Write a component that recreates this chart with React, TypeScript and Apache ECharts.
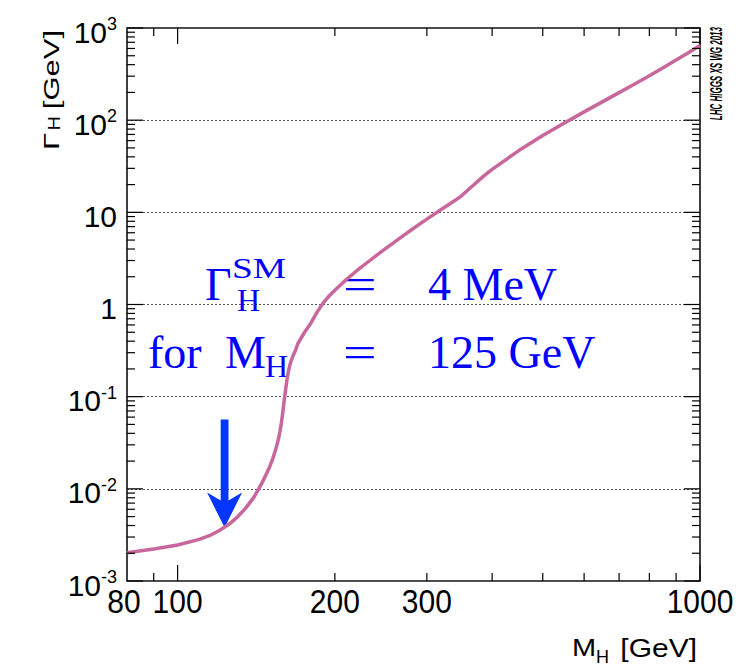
import React, { useEffect, useRef } from "react";
import * as echarts from "echarts";

// Higgs boson total width vs mass
const higgsMass = [80, 90, 100, 110, 115, 120, 125, 130, 135, 140, 145, 150, 152, 154, 156, 157, 158, 159, 160, 161, 162, 163, 164, 165, 166, 168, 170, 175, 180, 185, 190, 195, 200, 210, 220, 230, 240, 250, 260, 270, 280, 290, 300, 320, 340, 350, 360, 370, 380, 390, 400, 450, 500, 550, 600, 650, 700, 750, 800, 850, 900, 950, 1000];
const higgsWidth = [0.00203, 0.00222, 0.00246, 0.00283, 0.0031, 0.00351, 0.00407, 0.00491, 0.00618, 0.00812, 0.0115, 0.0173, 0.021, 0.0265, 0.035, 0.042, 0.052, 0.068, 0.092, 0.12, 0.155, 0.19, 0.22, 0.246, 0.27, 0.315, 0.38, 0.5, 0.631, 0.832, 1.04, 1.24, 1.43, 1.85, 2.31, 2.82, 3.4, 4.04, 4.76, 5.55, 6.43, 7.39, 8.43, 10.8, 13.5, 15.2, 17.6, 20.2, 23.1, 26.1, 29.2, 46.8, 68.0, 93.1, 123, 158, 199, 247, 304, 370, 449, 540, 647];

const xRange = [80, 1000];
const yRange = [0.001, 1000];
const xTickLabels = [80, 100, 200, 300, 1000];
const xMajorTicks = [100, 1000];
const xMinorTicks = [90, 200, 300, 400, 500, 600, 700, 800, 900];
const yDecadeExponents = [-3, -2, -1, 0, 1, 2, 3];
const yMinorMultipliers = [2, 3, 4, 5, 6, 7, 8, 9];
const arrowTarget = [123, 0.0038];

const SANS = "'Liberation Sans', Arial, Helvetica, sans-serif";
const SERIF = "'Liberation Serif', 'Times New Roman', serif";
const BLUE = "#0000ff";

export default function App() {
  const ref = useRef<HTMLDivElement>(null);

  useEffect(() => {
    if (!ref.current) return;
    const chart = echarts.init(ref.current, undefined, { renderer: "svg" });

    const yMajor = yDecadeExponents.map((e) => Math.pow(10, e));
    const yMinor: number[] = [];
    yDecadeExponents.slice(0, -1).forEach((e) => {
      yMinorMultipliers.forEach((m) => yMinor.push(m * Math.pow(10, e)));
    });
    const tickData = [
      ...yMajor.map((v) => [xRange[0], v, 0]),
      ...yMinor.map((v) => [xRange[0], v, 1]),
      ...xMajorTicks.map((v) => [v, yRange[0], 2]),
      ...xMinorTicks.map((v) => [v, yRange[0], 3]),
    ];

    const option: any = {
      animation: false,
      grid: {
        left: 127,
        right: 39,
        top: 28,
        bottom: 87,
        show: true,
        borderColor: "#111",
        borderWidth: 1.6,
        backgroundColor: "transparent",
        outerBoundsMode: "none",
      },
      xAxis: {
        type: "log",
        logBase: 10,
        min: xRange[0],
        max: xRange[1],
        axisLine: { show: false },
        axisTick: { show: false },
        axisLabel: { show: false },
        splitLine: { show: false },
      },
      yAxis: {
        type: "log",
        logBase: 10,
        min: yRange[0],
        max: yRange[1],
        splitNumber: 6,
        axisLine: { show: false },
        axisTick: { show: false },
        splitLine: {
          show: true,
          lineStyle: { type: [2, 2], color: "#555", width: 1 },
        },
        axisLabel: {
          show: true,
          margin: 10,
          showMinLabel: true,
          showMaxLabel: true,
          padding: [8, 0, 0, 0],
          formatter: (v: number) => {
            const e = Math.round(Math.log10(v));
            if (e === 0) return "{b|1}";
            if (e === 1) return "{b|10}";
            return `{b|10}{s|${e}}`;
          },
          rich: {
            b: { fontSize: 30, fontFamily: SANS, color: "#000", lineHeight: 34 },
            s: { fontSize: 18, fontFamily: SANS, color: "#000", lineHeight: 20, verticalAlign: "top" },
          },
        },
      },
      series: [
        {
          type: "line",
          data: higgsMass.map((m, i) => [m, higgsWidth[i]]),
          showSymbol: false,
          smooth: false,
          lineStyle: { color: "#c8679b", width: 3.5, join: "round" },
          z: 3,
          silent: true,
        },
        {
          type: "custom",
          silent: true,
          clip: false,
          z: 4,
          data: tickData,
          renderItem: (params: any, api: any) => {
            const x = api.value(0);
            const y = api.value(1);
            const k = api.value(2);
            const style = { stroke: "#000", lineWidth: 1.2 };
            if (k <= 1) {
              const len = k === 0 ? 16 : 8;
              const pL = api.coord([xRange[0], y]);
              const pR = api.coord([xRange[1], y]);
              return {
                type: "group",
                children: [
                  { type: "line", shape: { x1: pL[0], y1: pL[1], x2: pL[0] + len, y2: pL[1] }, style },
                  { type: "line", shape: { x1: pR[0], y1: pR[1], x2: pR[0] - len, y2: pR[1] }, style },
                ],
              };
            }
            const len = k === 2 ? 16 : 8;
            const pB = api.coord([x, yRange[0]]);
            const pT = api.coord([x, yRange[1]]);
            return {
              type: "group",
              children: [
                { type: "line", shape: { x1: pB[0], y1: pB[1], x2: pB[0], y2: pB[1] - len }, style },
                { type: "line", shape: { x1: pT[0], y1: pT[1], x2: pT[0], y2: pT[1] + len }, style },
              ],
            };
          },
        },
        {
          type: "custom",
          silent: true,
          clip: false,
          z: 4,
          data: xTickLabels.map((v) => [v, yRange[0]]),
          renderItem: (params: any, api: any) => {
            const v = api.value(0);
            const p = api.coord([v, yRange[0]]);
            return {
              type: "text",
              x: p[0] - (v === xRange[0] ? 3 : 0),
              y: p[1] + 20,
              scaleY: 1.12,
              style: {
                text: String(v),
                fontSize: 30,
                fontFamily: SANS,
                fill: "#000",
                align: "center",
                verticalAlign: "middle",
              },
            };
          },
        },
      ],
    };

    chart.setOption(option);

    const tip = chart.convertToPixel({ xAxisIndex: 0, yAxisIndex: 0 }, arrowTarget) as number[];
    const tx = tip[0];
    const ty = tip[1];

    const blueText = (text: string, x: number, y: number, size: number, scaleX = 1) => ({
      type: "text",
      x,
      y,
      scaleX,
      z: 1,
      silent: true,
      style: { text, fontSize: size, fontFamily: SERIF, fill: BLUE, align: "left", verticalAlign: "middle" },
    });

    const blackText = (
      text: string,
      x: number,
      y: number,
      size: number,
      align: string,
      rotated: boolean,
      squash: number
    ) => ({
      type: "text",
      x,
      y,
      rotation: rotated ? Math.PI / 2 : 0,
      scaleY: squash,
      silent: true,
      style: { text, fontSize: size, fontFamily: SANS, fill: "#000", align, verticalAlign: "middle" },
    });

    chart.setOption({
      graphic: [
        // y-axis title: Γ_H [GeV] (rotated, reading upwards)
        blackText("[GeV]", 52, 30, 31, "right", true, 0.72),
        blackText("H", 55, 116, 20, "right", true, 0.8),
        blackText("Γ", 52, 133, 31, "right", true, 0.72),
        // x-axis title: M_H [GeV]
        blackText("M", 572, 648, 29, "left", false, 0.85),
        blackText("H", 596, 657, 18, "left", false, 1),
        blackText("[GeV]", 697, 648, 30, "right", false, 0.85),
        // working group label
        {
          type: "text",
          x: 717,
          y: 27,
          rotation: Math.PI / 2,
          scaleX: 0.5,
          silent: true,
          style: {
            text: "LHC HIGGS XS WG 2013",
            fontSize: 16,
            fontWeight: "bold",
            fontStyle: "italic",
            fontFamily: SANS,
            fill: "#000",
            align: "right",
            verticalAlign: "middle",
          },
        },
        // annotation line 1
        blueText("Γ", 205, 284.5, 46),
        blueText("SM", 232, 268, 30, 1.25),
        blueText("H", 237, 300, 32),
        blueText("=", 343, 284.5, 46, 1.3),
        blueText("4 MeV", 428, 284.5, 46),
        // annotation line 2
        blueText("for", 148, 352.5, 46),
        blueText("M", 225, 352.5, 46),
        blueText("H", 265, 366, 32),
        blueText("=", 343, 352.5, 46, 1.3),
        blueText("125 GeV", 428, 352.5, 46),
        // arrow pointing at the 125 GeV width
        {
          type: "polygon",
          z: 1,
          silent: true,
          shape: {
            points: [
              [tx, ty],
              [tx + 17.5, ty - 35],
              [tx + 3.9, ty - 27],
              [tx + 3.9, ty - 108],
              [tx - 3.9, ty - 108],
              [tx - 3.9, ty - 27],
              [tx - 17.5, ty - 35],
            ],
          },
          style: { fill: "#0536ff" },
        },
      ],
    });

    return () => {
      chart.dispose();
    };
  }, []);

  return (
    <div
      ref={ref}
      style={{ position: "absolute", left: 0, top: 0, width: 739, height: 668, background: "#fff" }}
    />
  );
}
